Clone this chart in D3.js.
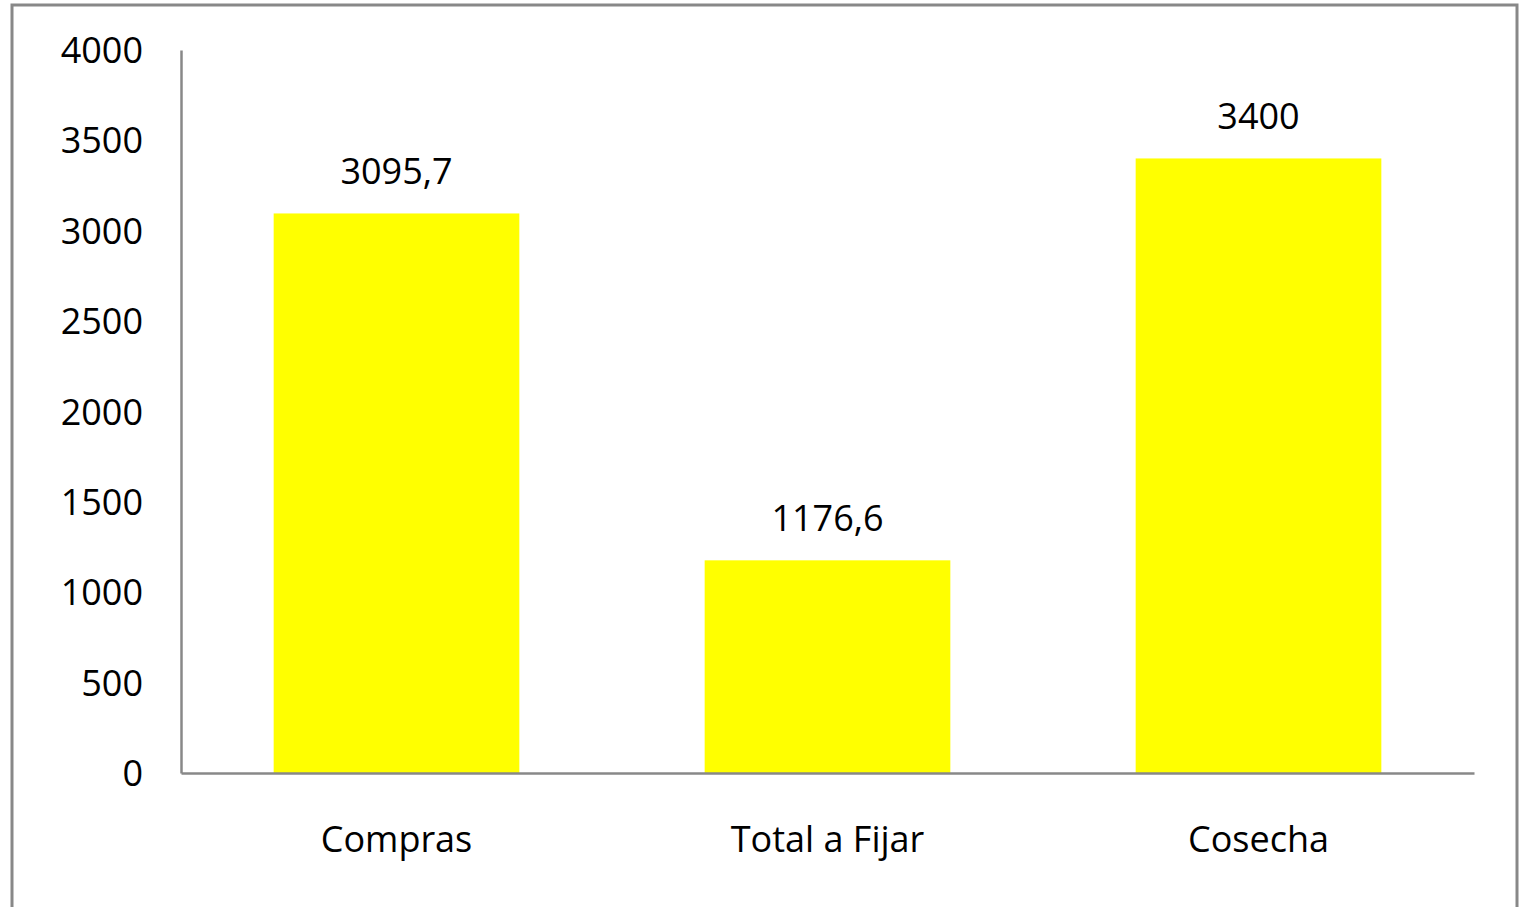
<!DOCTYPE html>
<html lang="es">
<head>
<meta charset="UTF-8">
<script src="https://d3js.org/d3.v7.min.js"></script>
<style>
    body{ margin:0; background:#fff; }
    text{ font-family:'Open Sans', sans-serif; font-size:36px; fill:#000; }
    .axis .domain{ stroke:#888; stroke-width:2.5; }
    .axis .tick line{ display:none; }
</style>
</head>
<body>
<svg width="1519" height="907"></svg>
<script>
    const categories = ["Compras", "Total a Fijar", "Cosecha"];
    const values = [3095.7, 1176.6, 3400];
    const valueLabels = ["3095,7", "1176,6", "3400"];
    const yTicks = [0, 500, 1000, 1500, 2000, 2500, 3000, 3500, 4000];

    const svg = d3.select("svg");
    const plotL = 181, plotR = 1474, plotT = 50, plotB = 773;

    // outer frame
    svg.append("rect")
        .attr("x", 12).attr("y", 5).attr("width", 1505).attr("height", 920)
        .attr("fill", "none").attr("stroke", "#888").attr("stroke-width", 3);

    const x = d3.scaleBand().domain(categories).range([plotL, plotR]).paddingInner(0.43).paddingOuter(0.215);
    const y = d3.scaleLinear().domain([0, 4000]).range([plotB, plotT]);

    svg.selectAll("rect.bar")
        .data(values)
        .join("rect").attr("class", "bar")
        .attr("x", (d, i) => x(categories[i]))
        .attr("y", d => y(d))
        .attr("width", x.bandwidth())
        .attr("height", d => y(0) - y(d))
        .attr("fill", "#ffff00");

    svg.selectAll("text.val")
        .data(values)
        .join("text").attr("class", "val")
        .attr("x", (d, i) => x(categories[i]) + x.bandwidth() / 2)
        .attr("y", d => y(d) - 29)
        .attr("text-anchor", "middle")
        .text((d, i) => valueLabels[i]);

    const yG = svg.append("g").attr("class", "axis")
        .attr("transform", `translate(${plotL},0)`)
        .call(d3.axisLeft(y).tickValues(yTicks).tickSize(0).tickPadding(38).tickFormat(d3.format("d")));
    yG.selectAll("text").attr("dy", "0.35em");

    const xG = svg.append("g").attr("class", "axis")
        .attr("transform", `translate(0,${plotB})`)
        .call(d3.axisBottom(x).tickSize(0).tickPadding(66));
    xG.selectAll("text").attr("dy", "0.35em");

    svg.selectAll(".axis text").style("font-family", "'Open Sans', sans-serif").style("font-size", "36px").attr("fill", "#000");
</script>
</body>
</html>
